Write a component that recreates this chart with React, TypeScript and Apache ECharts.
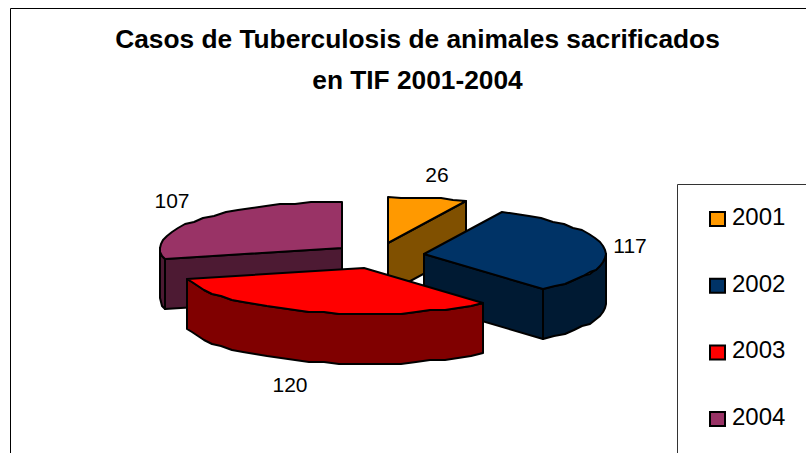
import React, { useEffect, useRef } from "react";
import * as echarts from "echarts";

const titleLines = ["Casos de Tuberculosis de animales sacrificados", "en TIF 2001-2004"];
const years = ["2001", "2002", "2003", "2004"];
const cases = [26, 117, 120, 107];
const topColors = ["#FF9900", "#003366", "#FF0000", "#993366"];
const sideColors = ["#805000", "#001A33", "#800000", "#4D1A33"];
const layers = [1, 3, 4, 2];
const apexX = [388, 424, 364, 342];
const apexY = [243, 254, 268, 248];
const labelX = [437, 630, 290, 172];
const labelY = [174, 245, 384, 200];

const RX = 182;
const RY = 46;
const DEPTH = 50;
const FONT = "'Liberation Sans', Arial, sans-serif";
const total = cases.reduce((a, b) => a + b, 0);

const rad = (d: number) => (d * Math.PI) / 180;

function arcPoints(cx: number, cy: number, a0: number, a1: number, step = 5) {
  const pts: number[][] = [];
  const n = Math.max(1, Math.ceil((a1 - a0) / step));
  for (let i = 0; i <= n; i++) {
    const a = rad(a0 + ((a1 - a0) * i) / n);
    const x = Math.round(cx + RX * Math.sin(a));
    const y = cy - RY * Math.cos(a);
    const snapped = i === 0 || i === n ? Math.round(y) : Math.round(y / 2) * 2;
    pts.push([x, snapped]);
  }
  return pts;
}

function sliceRender(index: number) {
  return (_params: any, api: any) => {
    const value = api.value(0);
    const before = cases.slice(0, index).reduce((a, b) => a + b, 0);
    const a0 = (before / total) * 360;
    const a1 = a0 + (value / total) * 360;
    const cx = apexX[index];
    const cy = apexY[index];
    const base = { stroke: "#000", lineWidth: 2, lineJoin: "round" };
    const side = { ...base, fill: sideColors[index] };
    const children: any[] = [];
    const face = (a: number) => {
      const p = arcPoints(cx, cy, a, a, 1)[0];
      children.push({
        type: "polygon",
        shape: { points: [[cx, cy], p, [p[0], p[1] + DEPTH], [cx, cy + DEPTH]] },
        style: side,
      });
    };
    if (Math.cos(rad(a0 - 90)) < -1e-6) face(a0);
    if (Math.cos(rad(a1 + 90)) < -1e-6) face(a1);
    const w0 = Math.max(a0, 90);
    const w1 = Math.min(a1, 270);
    if (w1 > w0) {
      const arc = arcPoints(cx, cy, w0, w1);
      const lower = arc.map(([x, y]) => [x, y + DEPTH]).reverse();
      children.push({ type: "polygon", shape: { points: [...arc, ...lower] }, style: side });
    }
    children.push({
      type: "polygon",
      shape: { points: [[cx, cy], ...arcPoints(cx, cy, a0, a1)] },
      style: { ...base, fill: topColors[index] },
    });
    children.push({
      type: "text",
      x: labelX[index],
      y: labelY[index],
      style: {
        text: String(value),
        fill: "#000",
        fontSize: 21,
        fontFamily: FONT,
        align: "center",
        verticalAlign: "middle",
      },
    });
    return { type: "group", children };
  };
}

export default function App() {
  const ref = useRef<HTMLDivElement>(null);
  useEffect(() => {
    const chart = echarts.init(ref.current!, null, { renderer: "svg" });
    chart.setOption({
      animation: false,
      backgroundColor: "#fff",
      title: {
        text: titleLines.join("\n"),
        left: 412.5,
        top: 13,
        textAlign: "center",
        textStyle: {
          fontFamily: FONT,
          fontSize: 26.3,
          fontWeight: "bold",
          color: "#000",
          lineHeight: 41,
        },
      },
      legend: {
        orient: "vertical",
        left: 709,
        top: 204.5,
        data: years,
        icon: "rect",
        itemWidth: 15,
        itemHeight: 14,
        itemGap: 42.7,
        selectedMode: false,
        padding: 0,
        formatter: "{a|{name}}",
        textStyle: {
          fontFamily: FONT,
          fontSize: 24,
          color: "#000",
          rich: {
            a: { fontFamily: FONT, fontSize: 24, color: "#000", padding: [0, 0, 5, 2] },
          },
        },
      },
      graphic: [
        {
          type: "polyline",
          shape: { points: [[10.5, 453], [10.5, 8.5], [806, 8.5]] },
          style: { stroke: "#000", lineWidth: 1, fill: "none" },
        },
        {
          type: "polyline",
          shape: { points: [[677.5, 453], [677.5, 184.5], [806, 184.5]] },
          style: { stroke: "#333", lineWidth: 1, fill: "none" },
        },
      ],
      series: years.map((name, i) => ({
        type: "custom",
        name,
        coordinateSystem: "none",
        z: layers[i],
        itemStyle: { color: topColors[i], borderColor: "#000", borderWidth: 1.5 },
        data: [[cases[i]]],
        renderItem: sliceRender(i),
      })),
    });
    return () => chart.dispose();
  }, []);
  return <div ref={ref} style={{ position: "absolute", left: 0, top: 0, width: 806, height: 453 }} />;
}
